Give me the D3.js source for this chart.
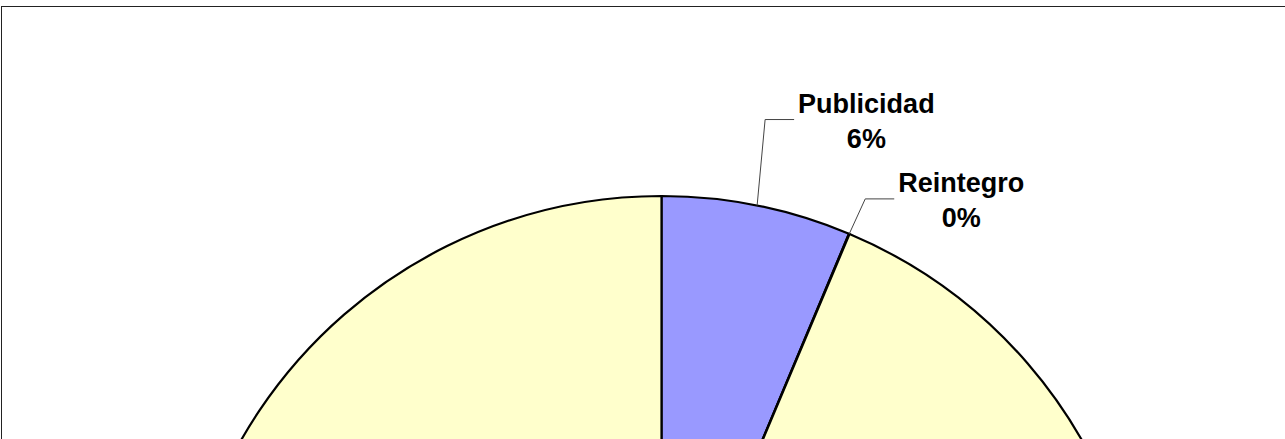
<!DOCTYPE html>
<html>
<head>
<meta charset="utf-8">
<script src="https://cdn.jsdelivr.net/npm/d3@7"></script>
<style>
  body { margin:0; background:#fff; }
  svg { display:block; }
</style>
</head>
<body>
<div class="canvas"></div>
<script>
// data
const categories = ['Publicidad', 'Reintegro', 'Otros']
const values = [6.33, 0.02, 93.65]
const colors = ['#9999FF', '#FFFFCC', '#FFFFCC']
const showLabel = [true, true, false]

// how far each label was dragged from its slice (leader elbow offset)
const elbowOffset = [[8, -86], [16, -35]]

const width = 1285
const height = 439
const cx = 661.5
const cy = 680
const radius = 484

const svg = d3.select('.canvas').append('svg').attr('width', width).attr('height', height)

// chart frame
svg.append('rect')
  .attr('x', 1.5).attr('y', 6.5)
  .attr('width', width + 20).attr('height', height + 20)
  .attr('fill', '#fff').attr('stroke', '#222').attr('stroke-width', 1)

const graph = svg.append('g').attr('transform', `translate(${cx},${cy})`)

const data = categories.map((c, i) => ({ name: c, value: values[i], color: colors[i], label: showLabel[i] }))
const total = d3.sum(values)

const pie = d3.pie().sort(null).value(d => d.value)
const arc = d3.arc().innerRadius(0).outerRadius(radius)
const arcs = pie(data)

graph.selectAll('path.slice').data(arcs).enter().append('path')
  .attr('class', 'slice')
  .attr('d', arc)
  .attr('fill', d => d.data.color)
  .attr('stroke', '#000')
  .attr('stroke-width', 2.2)
  .attr('stroke-linejoin', 'round')

// labels with leader lines
const labelled = arcs.filter(d => d.data.label)

labelled.forEach((d, i) => {
  const mid = (d.startAngle + d.endAngle) / 2
  const p0 = [Math.sin(mid) * radius, -Math.cos(mid) * radius]
  const p1 = [p0[0] + elbowOffset[i][0], p0[1] + elbowOffset[i][1]]
  const p2 = [p1[0] + 29, p1[1]]

  graph.append('polyline')
    .attr('points', [p0, p1, p2].map(p => p.join(',')).join(' '))
    .attr('fill', 'none').attr('stroke', '#444').attr('stroke-width', 1)

  const txt = graph.append('text')
    .attr('font-family', 'Liberation Sans, Arial, sans-serif')
    .attr('font-weight', 'bold')
    .attr('font-size', '27px')
    .attr('fill', '#000')
    .attr('text-anchor', 'middle')

  const t1 = txt.append('tspan').text(d.data.name)
  const w = t1.node().getComputedTextLength()
  const tx = p2[0] + 4 + w / 2
  t1.attr('x', tx).attr('y', p2[1] - 6.5)
  txt.append('tspan').attr('x', tx).attr('y', p2[1] + 28.5)
    .text(Math.round(d.data.value / total * 100) + '%')
})
</script>
</body>
</html>
